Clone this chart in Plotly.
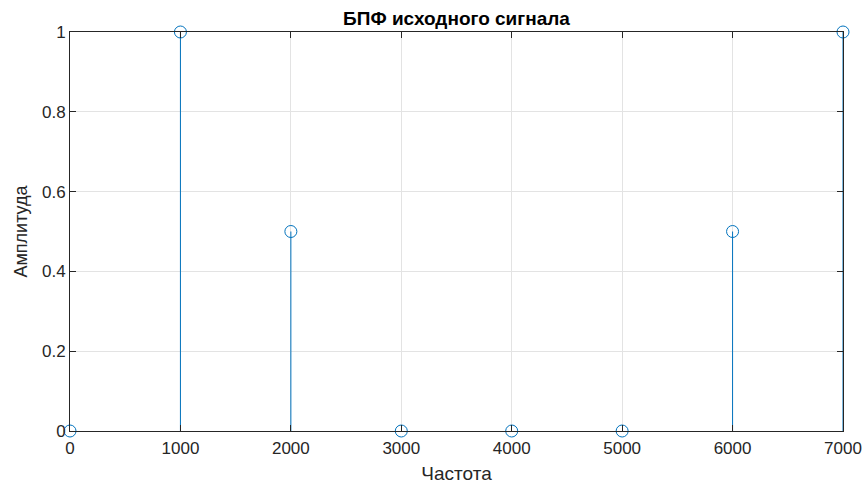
import plotly.graph_objects as go

freq = [0, 1000, 2000, 3000, 4000, 5000, 6000, 7000]
amp = [0, 1, 0.5, 0, 0, 0, 0.5, 1]
x_ticks = [0, 1000, 2000, 3000, 4000, 5000, 6000, 7000]
y_ticks = [0, 0.2, 0.4, 0.6, 0.8, 1]
y_tick_labels = ["0", "0.2", "0.4", "0.6", "0.8", "1"]

stem_x, stem_y = [], []
for f, a in zip(freq, amp):
    stem_x += [f, f, None]
    stem_y += [0, a, None]

blue = "#0072BD"
fnt = "Liberation Sans, Arial"
fig = go.Figure()
fig.add_trace(go.Scatter(x=stem_x, y=stem_y, mode="lines",
                         line=dict(color=blue, width=1), hoverinfo="skip",
                         showlegend=False, cliponaxis=False))
fig.add_trace(go.Scatter(x=freq, y=amp, mode="markers",
                         marker=dict(symbol="circle-open", size=12,
                                     color=blue, line=dict(width=1)),
                         showlegend=False, cliponaxis=False))

axis_common = dict(showline=True, linecolor="#262626", linewidth=1, mirror="ticks",
                   ticks="inside", ticklen=6, tickcolor="#262626",
                   showgrid=True, gridcolor="#e3e3e3", gridwidth=1,
                   zeroline=False, automargin=False,
                   tickfont=dict(family=fnt, size=17, color="#262626"))

fig.update_layout(
    width=864, height=484,
    margin=dict(l=70, r=21, t=32, b=53),
    paper_bgcolor="white", plot_bgcolor="white",
    title=dict(text="<b>БПФ исходного сигнала</b>", xref="paper", x=0.5, xanchor="center",
               yref="container", y=0.963, yanchor="middle",
               font=dict(family=fnt, size=19, color="black")),
    xaxis=dict(range=[0, 7000], tickvals=x_ticks, ticklabelstandoff=2,
               title=dict(text="Частота", standoff=10,
                          font=dict(family=fnt, size=19, color="#262626")),
               **axis_common),
    yaxis=dict(range=[0, 1], tickvals=y_ticks, ticktext=y_tick_labels,
               title=dict(text="Амплитуда", standoff=9,
                          font=dict(family=fnt, size=18, color="#262626")),
               **axis_common),
)

fig.write_html("out.html", config={"displayModeBar": False},
               post_script="document.body.style.margin='0';document.body.style.overflow='hidden';")
